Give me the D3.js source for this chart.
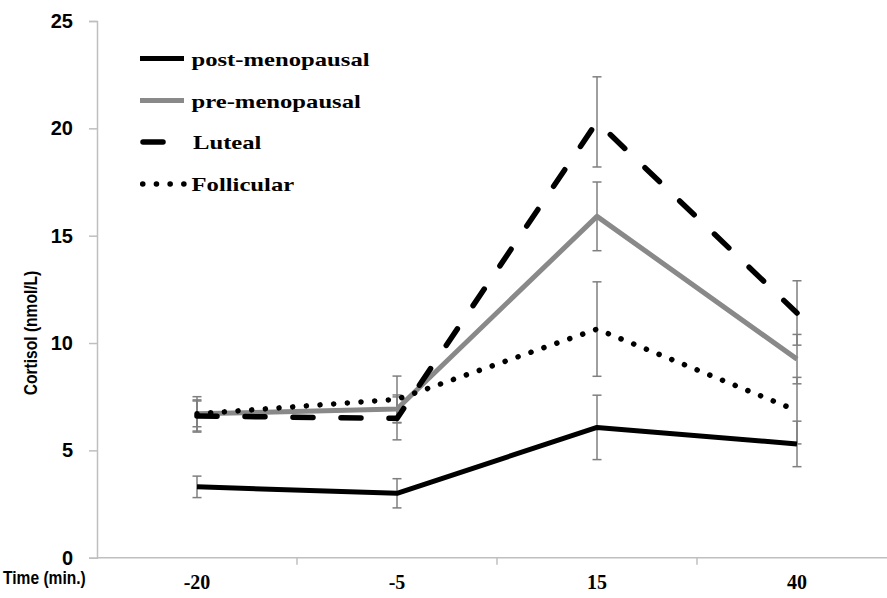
<!DOCTYPE html>
<html>
<head>
<meta charset="utf-8">
<script src="https://cdn.jsdelivr.net/npm/d3@7/dist/d3.min.js"></script>
<style>
  html, body { margin: 0; padding: 0; background: #fff; overflow: hidden; }
  svg { display: block; }
</style>
</head>
<body>
<div id="chart"></div>
<script>
// categories (time points, min.)
const times = ['-20', '-5', '15', '40'];
const yTicks = [0, 5, 10, 15, 20, 25];

// series means
const postMeno = [3.3, 3.0, 6.07, 5.3];
const preMeno = [6.7, 6.93, 15.9, 9.25];
const luteal = [6.6, 6.49, 20.3, 11.4];
const follicular = [6.7, 7.38, 10.65, 6.85];

// error (+/-)
const postErr = [0.5, 0.68, 1.5, 1.06];
const preErr = [0.6, 0.65, 1.6, 1.15];
const lutealErr = [0.75, 1.0, 2.1, 1.5];
const follicularErr = [0.8, 1.08, 2.2, 1.55];

const seriesNames = ['post-menopausal', 'pre-menopausal', 'Luteal', 'Follicular'];

const W = 887, H = 598;
const margin = { left: 97, top: 21, bottom: 40 };

const series = [
    { name: seriesNames[0], values: postMeno, err: postErr, color: '#000', dash: null, width: 5, cap: 'butt' },
    { name: seriesNames[1], values: preMeno, err: preErr, color: '#898989', dash: null, width: 5, cap: 'butt' },
    { name: seriesNames[2], values: luteal, err: lutealErr, color: '#000', dash: '20,28', width: 5.5, cap: 'round' },
    { name: seriesNames[3], values: follicular, err: follicularErr, color: '#000', dash: '0.1,13.6', width: 5.5, cap: 'round' }
];

const svg = d3.select('#chart').append('svg')
    .attr('width', W)
    .attr('height', H);

// scales
const x = d3.scaleBand()
    .domain(times)
    .range([margin.left, margin.left + 800])
    .padding(0);

const y = d3.scaleLinear()
    .domain([0, 25])
    .range([557.7, margin.top]);

const axisColor = '#bfbfbf';

// y axis
const gy = svg.append('g')
    .attr('transform', `translate(${margin.left},0)`)
    .call(d3.axisLeft(y).tickValues(yTicks).tickSize(8).tickPadding(16).tickFormat(d3.format('d')));
gy.select('.domain').attr('stroke', axisColor).attr('stroke-width', 1.5);
gy.selectAll('.tick line').attr('stroke', axisColor).attr('stroke-width', 1.5);
gy.selectAll('.tick text')
    .attr('fill', '#000')
    .style('font-family', '"Liberation Sans", Arial, sans-serif')
    .style('font-weight', 'bold')
    .style('font-size', '20px');

// x axis (tick marks at band boundaries)
const gx = svg.append('g')
    .attr('transform', `translate(0,${y(0)})`);
gx.append('line')
    .attr('x1', margin.left).attr('x2', margin.left + 800)
    .attr('stroke', axisColor).attr('stroke-width', 1.5);
gx.selectAll('line.bound')
    .data(times.slice(1))
    .join('line')
    .attr('class', 'bound')
    .attr('x1', d => x(d)).attr('x2', d => x(d))
    .attr('y1', 0).attr('y2', 7)
    .attr('stroke', axisColor).attr('stroke-width', 1.5);
gx.selectAll('text')
    .data(times)
    .join('text')
    .attr('x', d => x(d) + x.bandwidth() / 2)
    .attr('y', 31)
    .attr('text-anchor', 'middle')
    .style('font-family', '"Liberation Serif", "Times New Roman", serif')
    .style('font-weight', 'bold')
    .style('font-size', '20px')
    .text(d => d);

// axis titles (condensed look, like the original)
svg.append('text')
    .attr('transform', 'translate(3,584) scale(0.82,1)')
    .style('font-family', '"Liberation Sans", Arial, sans-serif')
    .style('font-weight', 'bold')
    .style('font-size', '19px')
    .text('Time (min.)');

svg.append('text')
    .attr('transform', 'translate(37,333) rotate(-90) scale(0.82,1)')
    .attr('text-anchor', 'middle')
    .style('font-family', '"Liberation Sans", Arial, sans-serif')
    .style('font-weight', 'bold')
    .style('font-size', '19px')
    .text('Cortisol (nmol/L)');

const cx = d => x(d) + x.bandwidth() / 2;

// error bars
const errG = svg.append('g');
series.forEach(s => {
    const rows = times.map((t, i) => ({ t, v: s.values[i], e: s.err[i] }));
    const g = errG.append('g');
    g.selectAll('line.stem').data(rows).join('line')
        .attr('x1', d => cx(d.t)).attr('x2', d => cx(d.t))
        .attr('y1', d => y(d.v + d.e)).attr('y2', d => y(d.v - d.e))
        .attr('stroke', '#7f7f7f').attr('stroke-width', 1.5);
    ['+', '-'].forEach(sign => {
        g.selectAll('line.cap' + (sign === '+' ? 'hi' : 'lo')).data(rows).join('line')
            .attr('x1', d => cx(d.t) - 4.5).attr('x2', d => cx(d.t) + 4.5)
            .attr('y1', d => y(sign === '+' ? d.v + d.e : d.v - d.e))
            .attr('y2', d => y(sign === '+' ? d.v + d.e : d.v - d.e))
            .attr('stroke', '#7f7f7f').attr('stroke-width', 1.5);
    });
});

// lines
const line = d3.line()
    .x((d, i) => cx(times[i]))
    .y(d => y(d));

series.forEach(s => {
    svg.append('path')
        .datum(s.values)
        .attr('d', line)
        .attr('fill', 'none')
        .attr('stroke', s.color)
        .attr('stroke-width', s.width)
        .attr('stroke-linecap', s.cap)
        .attr('stroke-linejoin', 'round')
        .attr('stroke-dasharray', s.dash);
});

// legend (text is stretched wide in the original)
const legendY = [58.5, 100.5, 142, 184];
const lg = svg.append('g');
series.forEach((s, i) => {
    const yy = legendY[i];
    const isLuteal = s.name === 'Luteal';
    const isDot = s.name === 'Follicular';
    lg.append('line')
        .attr('x1', isDot ? 142.7 : (isLuteal ? 143 : 140))
        .attr('x2', isLuteal ? 163 : 184)
        .attr('y1', yy).attr('y2', yy)
        .attr('stroke', s.color)
        .attr('stroke-width', s.width)
        .attr('stroke-linecap', s.cap)
        .attr('stroke-dasharray', isDot ? s.dash : null);
    lg.append('text')
        .attr('transform', `translate(${isLuteal ? 193 : 191.5},${yy + 7}) scale(1.37,1)`)
        .style('font-family', '"Liberation Serif", "Times New Roman", serif')
        .style('font-weight', 'bold')
        .style('font-size', '18px')
        .text(s.name);
});
</script>
</body>
</html>
